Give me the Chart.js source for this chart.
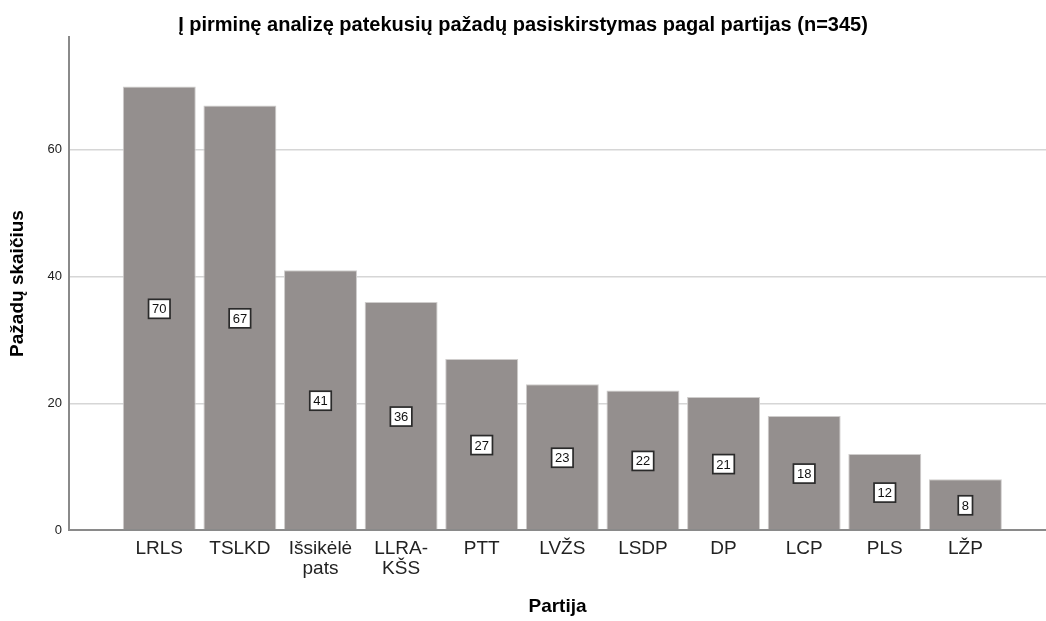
<!DOCTYPE html>
<html>
<head>
<meta charset="utf-8">
<script src="https://cdn.jsdelivr.net/npm/chart.js@4"></script>
<style>
  html, body { margin: 0; padding: 0; background: #fff; }
  #wrap { width: 1046px; height: 621px; }
</style>
</head>
<body>
<div id="wrap"><canvas id="parties"></canvas></div>
<script>
const partyLabels = ['LRLS', 'TSLKD', ['Išsikėlė', 'pats'], ['LLRA-', 'KŠS'], 'PTT', 'LVŽS', 'LSDP', 'DP', 'LCP', 'PLS', 'LŽP'];
const promiseCounts = [70, 67, 41, 36, 27, 23, 22, 21, 18, 12, 8];
const yTicks = [0, 20, 40, 60];

Chart.defaults.font.family = "'Liberation Sans', Arial, sans-serif";

// white boxed count in the middle of every bar
const countBoxes = {
    id: 'countBoxes',
    afterDatasetsDraw(chart) {
        const ctx = chart.ctx;
        const meta = chart.getDatasetMeta(0);
        ctx.save();
        ctx.font = "13px 'Liberation Sans', Arial, sans-serif";
        ctx.textAlign = 'center';
        ctx.textBaseline = 'middle';
        meta.data.forEach((bar, i) => {
            const txt = String(promiseCounts[i]);
            const cx = bar.x;
            const cy = (bar.y + bar.base) / 2 + 1;
            const w = ctx.measureText(txt).width + 7;
            const h = 19;
            ctx.fillStyle = '#ffffff';
            ctx.fillRect(cx - w / 2, cy - h / 2, w, h);
            ctx.strokeStyle = '#2a2a2a';
            ctx.lineWidth = 1.7;
            ctx.strokeRect(cx - w / 2, cy - h / 2, w, h);
            ctx.fillStyle = '#111111';
            ctx.fillText(txt, cx, cy + 1);
        });
        ctx.restore();
    }
};

const ctx = document.getElementById('parties').getContext('2d');
const partiesChart = new Chart(ctx, {
    type: 'bar',
    data: {
        datasets: [{
            label: 'Pažadų skaičius',
            data: promiseCounts.map((v, i) => ({ x: i, y: v })),
            backgroundColor: '#948f8e',
            borderColor: '#cfcdcc',
            borderWidth: 1,
            barPercentage: 0.905,
            categoryPercentage: 1
        }]
    },
    options: {
        responsive: true,
        maintainAspectRatio: false,
        animation: false,
        layout: { padding: 0 },
        plugins: {
            legend: { display: false },
            tooltip: { enabled: false },
            title: {
                display: true,
                text: 'Į pirminę analizę patekusių pažadų pasiskirstymas pagal partijas (n=345)',
                color: '#000',
                font: { size: 20, weight: 'bold' },
                padding: { top: 13, bottom: 0 }
            }
        },
        scales: {
            x: {
                type: 'linear',
                offset: false,
                min: -1.12,
                max: 11.0,
                afterBuildTicks: (scale) => {
                    scale.ticks = partyLabels.map((_, i) => ({ value: i }));
                },
                afterFit: (scale) => { scale.height = 91; },
                ticks: {
                    autoSkip: false,
                    maxRotation: 0,
                    padding: 9,
                    color: '#222',
                    font: { size: 19, lineHeight: 1.05 },
                    callback: (value) => partyLabels[value] ?? ''
                },
                grid: { display: false, drawTicks: false },
                border: { display: true, color: '#8a8a8a', width: 2 },
                title: {
                    display: true,
                    text: 'Partija',
                    color: '#000',
                    font: { size: 19, weight: 'bold' },
                    padding: { top: 0, bottom: 3 }
                }
            },
            y: {
                min: 0,
                max: 77.8,
                afterBuildTicks: (scale) => {
                    scale.ticks = yTicks.map(v => ({ value: v }));
                },
                afterFit: (scale) => { scale.width = 69; },
                ticks: {
                    padding: 7,
                    color: '#222',
                    font: { size: 13 }
                },
                grid: { color: '#d6d6d6', lineWidth: 1.5, drawTicks: false },
                border: { display: true, color: '#8a8a8a', width: 2 },
                title: {
                    display: true,
                    text: 'Pažadų skaičius',
                    color: '#000',
                    font: { size: 19, weight: 'bold' },
                    padding: { top: 6, bottom: 0 }
                }
            }
        }
    },
    plugins: [countBoxes]
});
</script>
</body>
</html>
